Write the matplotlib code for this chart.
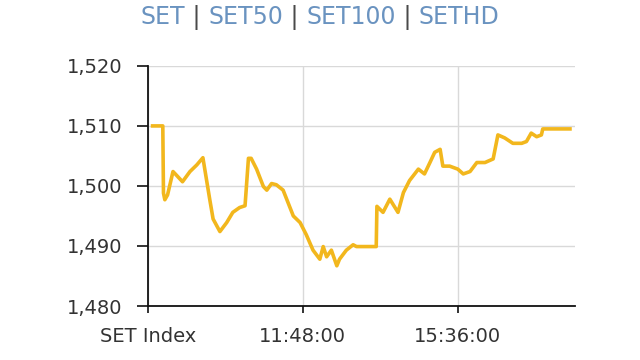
import matplotlib
matplotlib.use("Agg")
from matplotlib import pyplot as plt

# values (time of day, index level)
times = ["08:07", "08:22", "08:23", "08:25", "08:29", "08:37", "08:42", "08:51",
         "09:02", "09:12", "09:21", "09:31", "09:36", "09:46", "09:56", "10:05",
         "10:15", "10:23", "10:28", "10:32", "10:40", "10:50", "10:55", "11:02",
         "11:09", "11:19", "11:34", "11:44", "11:53", "12:03", "12:13", "12:18",
         "12:23", "12:30", "12:38", "12:42", "12:52", "13:02", "13:07", "13:36",
         "13:37", "13:46", "13:56", "14:08", "14:16", "14:25", "14:38", "14:47",
         "14:55", "15:02", "15:10", "15:14", "15:24", "15:36", "15:44", "15:54",
         "16:04", "16:16", "16:28", "16:35", "16:45", "16:57", "17:10", "17:17",
         "17:24", "17:32", "17:39", "17:41", "18:21"]
index_level = [1510.0, 1510.0, 1498.8, 1497.7, 1498.5, 1502.4, 1501.8, 1500.7,
               1502.4, 1503.5, 1504.7, 1497.8, 1494.5, 1492.4, 1493.9, 1495.6,
               1496.4, 1496.7, 1504.6, 1504.6, 1502.8, 1499.9, 1499.3, 1500.4,
               1500.2, 1499.3, 1495.0, 1493.9, 1491.9, 1489.3, 1487.8, 1489.9,
               1488.2, 1489.3, 1486.7, 1487.8, 1489.3, 1490.2, 1489.9, 1489.9,
               1496.6, 1495.6, 1497.8, 1495.6, 1498.9, 1500.9, 1502.8, 1502.0,
               1503.9, 1505.6, 1506.1, 1503.3, 1503.3, 1502.8, 1502.0, 1502.4,
               1503.9, 1503.9, 1504.5, 1508.5, 1508.0, 1507.1, 1507.1, 1507.4,
               1508.8, 1508.2, 1508.5, 1509.5, 1509.5]

y_ticks = [1480, 1490, 1500, 1510, 1520]
x_tick_times = ["08:00", "11:48", "15:36"]
x_tick_labels = ["SET Index", "11:48:00", "15:36:00"]
title_parts = ["SET", " | ", "SET50", " | ", "SET100", " | ", "SETHD"]


def to_min(t):
    h, m = t.split(":")
    return int(h) * 60 + int(m)


x = [to_min(t) for t in times]

fig = plt.figure(figsize=(6.4, 3.6), dpi=100)
ax = fig.add_axes([0.231, 0.15, 0.667, 0.667])

ax.plot(x, index_level, color="#f2b71d", lw=2.6, solid_joinstyle="round")

ax.set_xlim(480, 1108)
ax.set_ylim(1480, 1520)
ax.set_yticks(y_ticks)
ax.set_yticklabels([f"{v:,}" for v in y_ticks])
ax.set_xticks([to_min(t) for t in x_tick_times])
ax.set_xticklabels(x_tick_labels)
ax.grid(True, color="#d9d9d9", lw=1)
ax.set_axisbelow(True)
for s in ["top", "right"]:
    ax.spines[s].set_visible(False)
for s in ["left", "bottom"]:
    ax.spines[s].set_linewidth(1.3)
    ax.spines[s].set_color("#111111")
ax.tick_params(width=1.2, colors="#111111", labelcolor="#333333", labelsize=14)
ax.tick_params(axis="y", length=8, pad=10)
ax.tick_params(axis="x", length=5, pad=10)

# title pieces: blue names, grey separators
fig.canvas.draw()
r = fig.canvas.get_renderer()
pieces = []
for p in title_parts:
    col = "#4a4a4a" if "|" in p else "#6a93c0"
    pieces.append(fig.text(0, 0.952, p, color=col, fontsize=17, va="center"))
widths = [t.get_window_extent(r).width for t in pieces]
xpos = (640 - sum(widths)) / 2
for t, w in zip(pieces, widths):
    t.set_x(xpos / 640)
    xpos += w

fig.savefig("out.png", dpi=100)
